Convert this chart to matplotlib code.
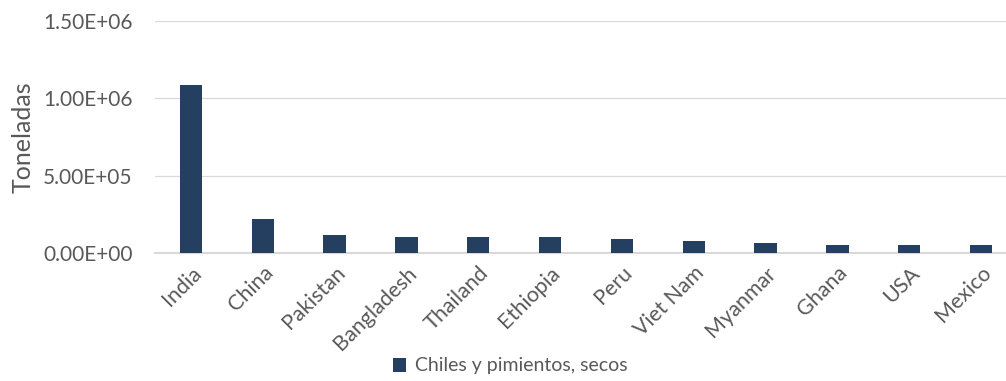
import matplotlib.pyplot as plt
import numpy as np

# Producción de chiles y pimientos secos por país (toneladas)
countries = ["India", "China", "Pakistan", "Bangladesh", "Thailand", "Ethiopia",
             "Peru", "Viet Nam", "Myanmar", "Ghana", "USA", "Mexico"]
tonnes = [1087000, 218000, 114000, 101000, 101000, 101000,
          88000, 76000, 63000, 50000, 50000, 50000]
y_ticks = [0, 5e5, 1e6, 1.5e6]

plt.rcParams['font.family'] = ['Lato', 'DejaVu Sans']
gray = '#595959'

fig = plt.figure(figsize=(10.06, 3.81), dpi=100)
ax = fig.add_axes([155 / 1006, 128 / 381, 862 / 1006, 232 / 381])

x = np.arange(len(countries))
ax.bar(x, tonnes, width=0.31, color='#243F5F', label='Chiles y pimientos, secos', zorder=3)

ax.set_xlim(-0.5, len(countries) - 0.5)
ax.set_ylim(0, 1.5e6)
ax.set_yticks(y_ticks)
ax.set_yticklabels([f"{v:.2E}" for v in y_ticks])
ax.set_xticks(x)
ax.set_xticklabels(countries, rotation=45, ha='right', rotation_mode='anchor')

ax.tick_params(axis='y', length=0, pad=16, labelsize=15, labelcolor=gray)
ax.tick_params(axis='x', length=0, pad=7, labelsize=15.5, labelcolor=gray)
ax.grid(axis='y', color='#d9d9d9', linewidth=0.9, zorder=0)

for side in ['top', 'right', 'left']:
    ax.spines[side].set_visible(False)
ax.spines['bottom'].set_color('#d9d9d9')
ax.spines['bottom'].set_linewidth(1.5)

ax.set_ylabel('Toneladas', fontsize=18, color=gray, labelpad=6)

handles, labels = ax.get_legend_handles_labels()
fig.legend(handles, labels, loc='center', bbox_to_anchor=(510 / 1006, 1 - 366 / 381),
           frameon=False, fontsize=14, labelcolor=gray, handlelength=0.7,
           handleheight=0.7, handletextpad=0.45)

fig.savefig('out.png', dpi=100)
